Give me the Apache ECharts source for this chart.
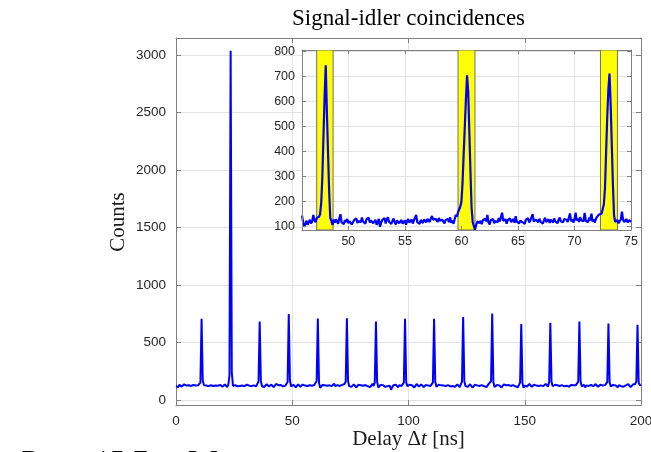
<!DOCTYPE html>
<html>
<head>
<meta charset="utf-8">
<script src="https://cdn.jsdelivr.net/npm/echarts@6/dist/echarts.min.js"></script>
<style>
html,body{margin:0;padding:0;background:#fff;}
#chart{width:651px;height:452px;}
</style>
</head>
<body>
<div id="chart"></div>
<script>
// ---------- data ----------
const titleText = 'Signal-idler coincidences';
const yAxisTitle = 'Counts';
const mainXStart = 0;      // ns
const mainXStep = 0.5;     // ns per sample
const mainCounts = [
118,126,112,131,122,115,128,135,119,124,110,127,133,121,116,129,138,124,113,126,
131,150,705,170,128,117,124,136,119,112,127,133,121,109,125,140,122,117,130,126,
114,129,135,120,111,131,210,3040,240,122,115,127,134,118,126,121,108,124,137,119,
128,132,115,123,140,121,113,126,131,117,128,160,682,165,118,125,112,129,136,122,
116,127,133,119,110,125,138,121,127,114,130,124,117,131,122,128,155,746,170,116,
123,132,119,109,126,135,121,114,128,133,118,124,137,120,112,127,131,122,115,129,
140,165,708,150,104,121,130,116,127,138,123,112,126,132,119,124,141,120,113,128,
134,121,117,130,125,138,160,711,162,119,126,113,129,135,120,108,124,131,117,127,
136,122,114,129,133,118,125,111,127,139,121,152,682,158,106,123,130,116,128,121,
113,126,119,105,122,88,110,128,117,132,124,109,127,135,120,126,150,705,155,118,
124,131,115,127,121,108,125,138,122,116,129,134,119,112,126,130,117,124,139,121,
128,152,705,160,113,122,131,118,126,109,124,136,121,115,128,132,117,125,120,130,
114,127,135,119,111,126,158,720,164,120,127,113,129,136,122,107,124,131,118,126,
137,121,115,128,133,119,124,110,127,139,123,162,752,155,112,124,130,117,126,121,
108,125,134,119,127,113,129,136,121,116,128,132,118,125,110,127,150,659,148,104,
122,130,116,127,138,121,113,126,131,117,124,135,120,108,126,133,119,125,139,122,
116,156,670,160,118,125,131,114,127,136,121,110,128,133,118,126,122,137,115,124,
130,119,127,112,128,135,158,682,162,117,124,131,108,126,138,121,114,129,133,119,
125,137,120,113,127,132,118,124,110,128,136,155,665,152,116,124,130,117,126,121,
109,128,134,119,127,114,131,125,118,136,122,111,127,133,120,138,160,653,150,126,
132
];
const insetXStart = 45.9;  // ns
const insetXStep = 0.1;    // ns per sample
const insetCounts = [
145,118,100,112,124,108,119,128,113,121,
147,126,118,135,142,140,150,195,300,465,620,
745,
560,400,245,135,124,107,128,116,130,
121,112,133,150,118,125,110,127,119,131,
114,122,128,109,117,126,120,134,115,123,
129,118,137,121,126,112,130,124,136,117,
125,132,114,121,128,108,119,131,100,116,
127,122,135,113,129,138,120,126,111,124,
133,117,109,125,130,114,121,127,112,119,
126,108,123,131,116,122,129,113,125,137,
147,118,124,111,127,120,115,129,122,118,
131,125,119,134,143,128,121,132,126,119,
135,124,117,129,122,113,127,120,131,118,
138,116,124,112,130,148,140,158,165,180,
200,275,390,500,610,705,640,480,320,175,
118,112,88,106,121,128,115,124,110,126,
119,132,122,147,117,109,126,120,131,114,
123,129,118,135,121,140,156,124,117,130,
112,127,121,133,118,125,131,116,142,120,
127,113,124,130,119,126,111,128,122,134,
117,125,131,150,121,114,129,123,118,132,
120,127,112,125,136,119,124,130,115,128,
121,117,133,122,126,114,129,137,121,125,
118,131,124,128,119,136,153,122,130,117,
128,156,125,133,119,138,126,131,122,155,
124,130,118,137,126,152,121,129,117,132,
140,147,150,148,152,158,190,255,400,540,
650,712,590,430,270,145,120,118,126,114,
121,130,160,128,119,124,131,117,126,130,120
];
// coincidence windows (start, end) in ns, highlighted in the inset
const windowStarts = [47.2, 59.7, 72.3];
const windowEnds   = [48.65, 61.2, 73.8];
// axis ranges / ticks
const mainXRange = [0, 200], mainXTick = 50;
const mainYRange = [-45, 3150], mainYTick = 500;
const insetXRange = [45.9, 75], insetXTick = 5;
const insetYRange = [87, 806], insetYTick = 100;

// ---------- build ----------
const mainData = mainCounts.map((v, i) => [mainXStart + i * mainXStep, v]);
const insetData = insetCounts.map((v, j) => [Math.round((insetXStart + j * insetXStep) * 100) / 100, v]);
const bandData = windowStarts.map((s, k) => [s, windowEnds[k]]);

const AX = '#808080';
const LBL = '#262626';
const GRIDC = '#e3e3e3';
const SANS = '"Liberation Sans", Arial, sans-serif';
const SERIF = '"Liberation Serif", "Times New Roman", serif';

function multFmt(step) {
  return function (v) {
    const r = v / step;
    return Math.abs(r - Math.round(r)) < 1e-6 ? String(Math.round(v)) : '';
  };
}

const chart = echarts.init(document.getElementById('chart'), null, {renderer: 'canvas'});
chart.setOption({
  animation: false,
  backgroundColor: '#ffffff',
  grid: [
    {left: 176, right: 10, top: 38, bottom: 47, z: 0, containLabel: false, outerBoundsMode: 'none'},
    {left: 302, right: 20, top: 50, bottom: 222, show: true, backgroundColor: '#ffffff', borderWidth: 0, z: 3,
     containLabel: false, outerBoundsMode: 'none'}
  ],
  xAxis: [
    {type: 'value', gridIndex: 0, position: 'bottom', min: mainXRange[0], max: mainXRange[1], interval: mainXTick,
     axisLine: {show: true, onZero: false, lineStyle: {color: AX, width: 1}},
     axisTick: {show: true, inside: true, length: 5, lineStyle: {color: AX}},
     axisLabel: {color: LBL, fontSize: 13.5, fontFamily: SANS, margin: 9},
     splitLine: {show: true, lineStyle: {color: GRIDC, width: 1}}, z: 0},
    {type: 'value', gridIndex: 0, position: 'top', min: mainXRange[0], max: mainXRange[1], interval: mainXTick,
     axisLine: {show: true, onZero: false, lineStyle: {color: AX, width: 1}},
     axisTick: {show: true, inside: true, length: 5, lineStyle: {color: AX}},
     axisLabel: {show: false}, splitLine: {show: false}, z: 0},
    {type: 'value', gridIndex: 1, position: 'bottom', min: insetXRange[0], max: insetXRange[1],
     minInterval: insetXTick, maxInterval: insetXTick, splitNumber: 6,
     axisLine: {show: true, onZero: false, lineStyle: {color: AX, width: 1}},
     axisTick: {show: true, inside: true, length: 4, lineStyle: {color: AX}},
     axisLabel: {color: LBL, fontSize: 12.5, fontFamily: SANS, margin: 5, formatter: multFmt(insetXTick)},
     splitLine: {show: false}, z: 7},
    {type: 'value', gridIndex: 1, position: 'top', min: insetXRange[0], max: insetXRange[1],
     minInterval: insetXTick, maxInterval: insetXTick, splitNumber: 6,
     axisLine: {show: true, onZero: false, lineStyle: {color: AX, width: 1}},
     axisTick: {show: true, inside: true, length: 4, lineStyle: {color: AX}},
     axisLabel: {show: false},
     splitLine: {show: true, lineStyle: {color: GRIDC, width: 1}}, z: 4}
  ],
  yAxis: [
    {type: 'value', gridIndex: 0, position: 'left', min: mainYRange[0], max: mainYRange[1],
     minInterval: mainYTick, maxInterval: mainYTick, splitNumber: 6,
     axisLine: {show: true, onZero: false, lineStyle: {color: AX, width: 1}},
     axisTick: {show: true, inside: true, length: 5, lineStyle: {color: AX}},
     axisLabel: {color: LBL, fontSize: 13.5, fontFamily: SANS, margin: 10, formatter: multFmt(mainYTick)},
     splitLine: {show: true, lineStyle: {color: GRIDC, width: 1}}, z: 0},
    {type: 'value', gridIndex: 0, position: 'right', min: mainYRange[0], max: mainYRange[1],
     minInterval: mainYTick, maxInterval: mainYTick, splitNumber: 6,
     axisLine: {show: true, onZero: false, lineStyle: {color: AX, width: 1}},
     axisTick: {show: true, inside: true, length: 5, lineStyle: {color: AX}},
     axisLabel: {show: false}, splitLine: {show: false}, z: 0},
    {type: 'value', gridIndex: 1, position: 'left', min: insetYRange[0], max: insetYRange[1],
     minInterval: insetYTick, maxInterval: insetYTick, splitNumber: 7,
     axisLine: {show: true, onZero: false, lineStyle: {color: AX, width: 1}},
     axisTick: {show: true, inside: true, length: 4, lineStyle: {color: AX}},
     axisLabel: {color: LBL, fontSize: 12.5, fontFamily: SANS, margin: 7, formatter: multFmt(insetYTick)},
     splitLine: {show: false}, z: 7},
    {type: 'value', gridIndex: 1, position: 'right', min: insetYRange[0], max: insetYRange[1],
     minInterval: insetYTick, maxInterval: insetYTick, splitNumber: 7,
     axisLine: {show: true, onZero: false, lineStyle: {color: AX, width: 1}},
     axisTick: {show: true, inside: true, length: 4, lineStyle: {color: AX}},
     axisLabel: {show: false},
     splitLine: {show: true, lineStyle: {color: GRIDC, width: 1}}, z: 4}
  ],
  series: [
    {type: 'line', name: 'main', xAxisIndex: 0, yAxisIndex: 0, data: mainData, showSymbol: false,
     lineStyle: {color: '#0000ff', width: 2}, itemStyle: {color: '#0000ff'}, z: 2, clip: true},
    {type: 'custom', name: 'windows', xAxisIndex: 2, yAxisIndex: 2, data: bandData, z: 5, clip: true,
     encode: {x: [0, 1]},
     renderItem: function (params, api) {
       const p0 = api.coord([api.value(0), insetYRange[1]]);
       const p1 = api.coord([api.value(1), insetYRange[0]]);
       return {type: 'rect', shape: {x: p0[0], y: p0[1], width: p1[0] - p0[0], height: p1[1] - p0[1]},
               style: {fill: '#ffff00', stroke: '#707070', lineWidth: 1}};
     }},
    {type: 'line', name: 'inset', xAxisIndex: 2, yAxisIndex: 2, data: insetData, showSymbol: false,
     lineStyle: {color: '#0000ff', width: 2.2}, itemStyle: {color: '#0000ff'}, z: 6, clip: true}
  ],
  graphic: [
    {type: 'text', x: 408.5, y: 19, z: 10,
     style: {text: titleText, font: '23px ' + SERIF, fill: '#000', textAlign: 'center', textVerticalAlign: 'middle'}},
    {type: 'text', x: 118, y: 222, rotation: Math.PI / 2, z: 10,
     style: {text: yAxisTitle, font: '21px ' + SERIF, fill: '#1a1a1a', textAlign: 'center', textVerticalAlign: 'middle'}},
    {type: 'text', x: 408.5, y: 439, z: 10,
     style: {rich: {n: {font: '21px ' + SERIF, fill: '#1a1a1a'}, i: {font: 'italic 21px ' + SERIF, fill: '#1a1a1a'}},
             text: '{n|Delay Δ}{i|t}{n| [ns]}', textAlign: 'center', textVerticalAlign: 'middle'}},
    {type: 'text', x: 21.5, y: 462, z: 10,
     style: {rich: {n: {font: '30px ' + SERIF, fill: '#000'}, s: {font: '20px ' + SERIF, fill: '#000', padding: [14, 0, 0, 0]}},
             text: '{n|P}{s|p}', textAlign: 'left', textVerticalAlign: 'middle'}},
    {type: 'text', x: 70.6, y: 462, z: 10,
     style: {text: '= 15.7', font: '30px ' + SERIF, fill: '#000', textAlign: 'left', textVerticalAlign: 'middle'}},
    {type: 'text', x: 217, y: 462, z: 10,
     style: {text: 'mW', font: '30px ' + SERIF, fill: '#000', textAlign: 'right', textVerticalAlign: 'middle'}}
  ]
});
</script>
</body>
</html>
